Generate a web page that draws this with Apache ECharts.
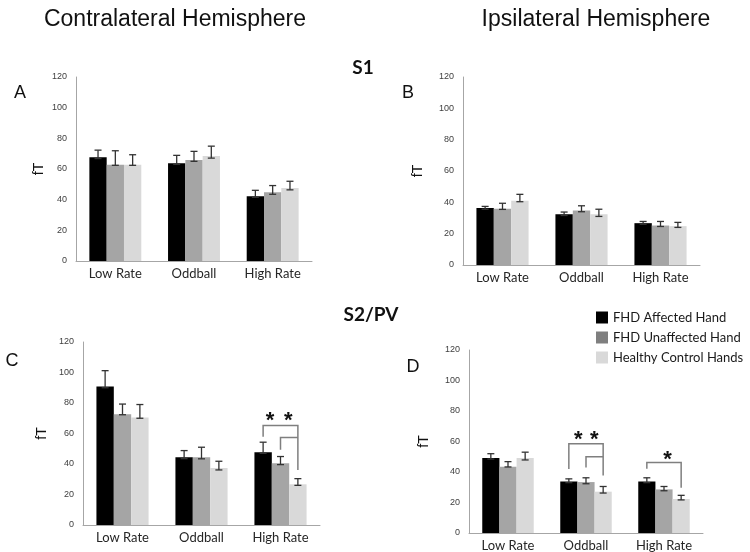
<!DOCTYPE html>
<html><head><meta charset="utf-8">
<script src="https://cdn.jsdelivr.net/npm/echarts@6/dist/echarts.min.js"></script>
<style>html,body{margin:0;padding:0;background:#fff}#c{width:750px;height:552px}</style>
</head><body><div id="c"></div>
<script>
// ---------- data ----------
const categories = ['Low Rate', 'Oddball', 'High Rate'];
const groupNames = ['FHD Affected Hand', 'FHD Unaffected Hand', 'Healthy Control Hands'];
const yMin = 0, yMax = 120, yStep = 20;

// Panel A (S1, contralateral): rows = affected, unaffected, control
const A_mean    = [[67.6, 63.7, 42.2], [62.8, 65.8, 44.8], [62.8, 68.4, 47.6]];
const A_errHigh = [[72.3, 68.9, 46.1], [71.9, 71.5, 49.2], [69.3, 74.9, 52.0]];
const A_errLow  = [[66.8, 63.0, 41.5], [62.4, 65.0, 43.5], [62.4, 67.1, 46.4]];

// Panel B (S1, ipsilateral)
const B_mean    = [[36.4, 32.4, 26.7], [35.9, 34.8, 25.2], [41.0, 32.4, 24.8]];
const B_errHigh = [[37.4, 33.8, 27.8], [39.4, 37.8, 27.8], [45.1, 35.6, 27.2]];
const B_errLow  = [[35.6, 31.6, 26.0], [35.5, 34.0, 24.6], [40.4, 31.0, 24.0]];

// Panel C (S2/PV, contralateral)
const C_mean    = [[90.9, 44.4, 47.7], [72.7, 44.4, 40.5], [70.5, 37.4, 26.7]];
const C_errHigh = [[101.2, 48.8, 54.3], [79.3, 51.0, 44.9], [79.0, 41.8, 30.4]];
const C_errLow  = [[90.0, 43.5, 47.0], [72.3, 43.4, 39.6], [70.0, 36.1, 26.0]];

// Panel D (S2/PV, ipsilateral)
const D_mean    = [[49.2, 33.8, 33.8], [43.5, 33.4, 28.6], [49.2, 27.1, 22.3]];
const D_errHigh = [[52.0, 35.5, 36.2], [46.8, 36.2, 30.5], [53.0, 30.5, 24.7]];
const D_errLow  = [[48.5, 33.0, 33.0], [43.3, 32.3, 27.7], [47.9, 26.2, 21.7]];

// significance brackets: [categoryIndex, leftGroup, rightGroup, topValue, leftFootValue, rightFootValue]
const C_brackets = [[2, 0, 2, 65.2, 57.8, 36.0], [2, 1, 2, 57.4, 49.3, 57.4]];
const D_brackets = [[1, 0, 2, 58.5, 42.0, 37.7], [1, 1, 2, 50.0, 42.9, 50.0], [2, 0, 2, 46.3, 42.2, 29.7]];
// stars: [categoryIndex, position in bar units from centre group, value]
const C_stars = [[2, -0.6, 71.6], [2, 0.45, 71.6]];
const D_stars = [[1, -0.45, 64.4], [1, 0.48, 64.4], [2, 0.2, 51.4]];

// ---------- style ----------
const barColors = ['#000000', '#a5a5a5', '#d9d9d9'];
const legendColors = ['#000000', '#7f7f7f', '#d9d9d9'];
const BAR_FRAC = 0.22;
const axisGray = '#a6a6a6';

const grids = [
  {left: 76, top: 77, width: 236, height: 184},
  {left: 463, top: 77, width: 237, height: 188},
  {left: 83, top: 342, width: 237, height: 183},
  {left: 469, top: 350, width: 234, height: 184}
];
const nameGaps = [30, 38, 34, 38];

function errRender(params, api) {
  const cat = api.value(0), lo = api.value(1), hi = api.value(2), g = api.value(3);
  const band = api.size([1, 0])[0];
  const bw = band * BAR_FRAC;
  const cx = api.coord([cat, 0])[0] + (g - 1) * bw;
  const yLo = api.coord([cat, lo])[1], yHi = api.coord([cat, hi])[1];
  const cap = 3.5;
  const st = {stroke: '#333333', lineWidth: 1.3};
  return {type: 'group', children: [
    {type: 'line', shape: {x1: cx, y1: yLo, x2: cx, y2: yHi}, style: st},
    {type: 'line', shape: {x1: cx - cap, y1: yHi, x2: cx + cap, y2: yHi}, style: st},
    {type: 'line', shape: {x1: cx - cap, y1: yLo, x2: cx + cap, y2: yLo}, style: st}
  ]};
}
function bracketRender(params, api) {
  const cat = api.value(0), gl = api.value(1), gr = api.value(2);
  const band = api.size([1, 0])[0], bw = band * BAR_FRAC;
  const c0 = api.coord([cat, 0])[0];
  const xl = c0 + (gl - 1) * bw, xr = c0 + (gr - 1) * bw;
  const yt = api.coord([cat, api.value(3)])[1];
  const yl = api.coord([cat, api.value(4)])[1];
  const yr = api.coord([cat, api.value(5)])[1];
  return {type: 'polyline', shape: {points: [[xl, yl], [xl, yt], [xr, yt], [xr, yr]]},
    style: {stroke: '#7f7f7f', lineWidth: 1.5, fill: null}};
}
function starRender(params, api) {
  const cat = api.value(0), off = api.value(1);
  const band = api.size([1, 0])[0], bw = band * BAR_FRAC;
  const p = api.coord([cat, api.value(2)]);
  return {type: 'text', x: p[0] + off * bw, y: p[1] + 5,
    style: {text: '*', fill: '#111', font: 'bold 22px "Liberation Sans", Arial, sans-serif',
      align: 'center', verticalAlign: 'middle'}};
}

const panels = [
  {mean: A_mean, hi: A_errHigh, lo: A_errLow},
  {mean: B_mean, hi: B_errHigh, lo: B_errLow},
  {mean: C_mean, hi: C_errHigh, lo: C_errLow, brackets: C_brackets, stars: C_stars},
  {mean: D_mean, hi: D_errHigh, lo: D_errLow, brackets: D_brackets, stars: D_stars}
];

const xAxes = [], yAxes = [], series = [];
panels.forEach((p, i) => {
  xAxes.push({type: 'category', gridIndex: i, data: categories,
    axisLine: {lineStyle: {color: axisGray, width: 1}}, axisTick: {show: false},
    axisLabel: {fontFamily: 'Lato', fontSize: 13, color: '#262626', margin: 6}});
  yAxes.push({type: 'value', gridIndex: i, min: yMin, max: yMax, interval: yStep,
    name: 'fT', nameLocation: 'middle', nameRotate: 90, nameGap: nameGaps[i],
    nameTextStyle: {fontFamily: '"Liberation Sans", Arial', fontSize: 14, color: '#111'},
    axisLine: {show: true, lineStyle: {color: axisGray, width: 1}}, axisTick: {show: false},
    splitLine: {show: false},
    axisLabel: {fontFamily: '"Liberation Sans", Arial', fontSize: 9, color: '#404040', margin: 9}});
  groupNames.forEach((n, g) => {
    series.push({type: 'bar', name: n, xAxisIndex: i, yAxisIndex: i, data: p.mean[g],
      barWidth: (BAR_FRAC * 100) + '%', barGap: '0%', itemStyle: {color: barColors[g]},
      silent: true});
  });
  const errData = [];
  for (let g = 0; g < 3; g++) for (let c = 0; c < 3; c++) errData.push([c, p.lo[g][c], p.hi[g][c], g]);
  series.push({type: 'custom', xAxisIndex: i, yAxisIndex: i, renderItem: errRender, data: errData, z: 5, silent: true});
  if (p.brackets) series.push({type: 'custom', xAxisIndex: i, yAxisIndex: i, renderItem: bracketRender, data: p.brackets, z: 6, silent: true});
  if (p.stars) series.push({type: 'custom', xAxisIndex: i, yAxisIndex: i, renderItem: starRender, data: p.stars, z: 6, silent: true});
});

const txt = (t, x, y, font, extra) => Object.assign({type: 'text', x: x, y: y,
  style: {text: t, font: font, fill: '#111', align: 'center', verticalAlign: 'middle'}}, extra || {});

const chart = echarts.init(document.getElementById('c'), null, {renderer: 'canvas'});
chart.setOption({
  animation: false,
  backgroundColor: '#fff',
  grid: grids,
  xAxis: xAxes,
  yAxis: yAxes,
  legend: {
    orient: 'vertical', left: 596, top: 311, padding: 0, itemGap: 7,
    itemWidth: 12, itemHeight: 12, icon: 'rect', selectedMode: false,
    textStyle: {fontFamily: 'Lato', fontSize: 13, color: '#1a1a1a', padding: [0, 0, 0, 0]},
    data: groupNames.map((n, g) => ({name: n, itemStyle: {color: legendColors[g]}}))
  },
  graphic: [
    txt('Contralateral Hemisphere', 175, 20, '23px "Liberation Sans", Arial, sans-serif'),
    txt('Ipsilateral Hemisphere', 596, 20, '23px "Liberation Sans", Arial, sans-serif'),
    txt('S1', 363, 68, 'bold 19px Lato, sans-serif'),
    txt('S2/PV', 371, 315, 'bold 19px Lato, sans-serif'),
    txt('A', 20, 93, '18px "Liberation Sans", Arial, sans-serif'),
    txt('B', 408, 93, '18px "Liberation Sans", Arial, sans-serif'),
    txt('C', 12, 361, '18px "Liberation Sans", Arial, sans-serif'),
    txt('D', 413, 367, '18px "Liberation Sans", Arial, sans-serif')
  ],
  series: series
});
</script></body></html>
